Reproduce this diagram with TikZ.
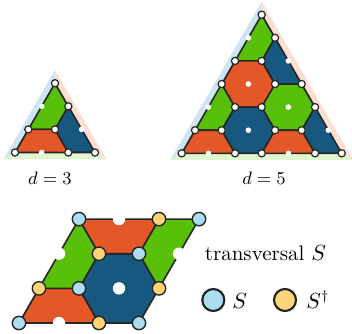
\documentclass[tikz,border=0pt]{standalone}
\usetikzlibrary{calc}

\definecolor{plaq0}{RGB}{228,88,40}
\definecolor{plaq1}{RGB}{22,88,128}
\definecolor{plaq2}{RGB}{88,192,8}
\definecolor{qblue}{RGB}{170,222,238}
\definecolor{qyellow}{RGB}{255,212,120}
\definecolor{stripblue}{RGB}{205,228,242}
\definecolor{stripred}{RGB}{252,222,210}
\definecolor{stripgreen}{RGB}{224,246,206}

\begin{document}
\begin{tikzpicture}[
  x=0.5pt,y=-0.5pt,
  edge/.style={draw=black!85,line width=0.8pt,line join=round},
  qubit/.style={circle,draw=black!85,line width=0.6pt,fill=white,inner sep=0pt,minimum size=3.6pt},
  stab/.style={circle,fill=white,inner sep=0pt,minimum size=2.8pt},
  bigqubit/.style={circle,draw=black!85,line width=0.7pt,inner sep=0pt,minimum size=6.7pt},
  bigstab/.style={circle,fill=white,inner sep=0pt,minimum size=6.2pt},
  legqubit/.style={circle,draw=black!85,line width=1.1pt,inner sep=0pt,minimum size=11pt},
  dlabel/.style={font=\fontsize{9}{11}\selectfont}
]
\useasboundingbox (0,0) rectangle (352,333);

% triangular codes, d=3 and d=5
\foreach \n/\xo/\yo/\k/\d/\lx in {3/15/152.5/1.282/3/50,6/181.7/153.3/1.141/5/264}{
  \begin{scope}[shift={(\xo,\yo)},x={(13.333pt,0pt)},y={(6.667pt,11.547pt)}]
    \coordinate (ctr\d) at (\n/3,\n/3);
    \coordinate (bl\d) at ($(ctr\d)!\k!(0,0)$);
    \coordinate (br\d) at ($(ctr\d)!\k!(\n,0)$);
    \coordinate (tp\d) at ($(ctr\d)!\k!(0,\n)$);
    \fill[stripblue] (ctr\d) -- (bl\d) -- (tp\d) -- cycle;
    \fill[stripred] (ctr\d) -- (br\d) -- (tp\d) -- cycle;
    \fill[stripgreen] (ctr\d) -- (bl\d) -- (br\d) -- cycle;
    \begin{scope}
      \clip (0,0) -- (\n,0) -- (0,\n) -- cycle;
      \foreach \i in {0,...,\n}
        \foreach \j in {0,...,\n}{
          \pgfmathtruncatemacro\r{mod(\i-\j+9,3)}
          \pgfmathtruncatemacro\s{\i+\j}
          \pgfmathtruncatemacro\c{mod(\j,3)}
          \ifnum\s>\n\else\ifnum\r=1
            \filldraw[edge,fill=plaq\c] (\i+1,\j) -- (\i,\j+1) -- (\i-1,\j+1)
              -- (\i-1,\j) -- (\i,\j-1) -- (\i+1,\j-1) -- cycle;
          \fi\fi
        }
    \end{scope}
    \draw[edge] (0,0) -- (\n,0) -- (0,\n) -- cycle;
    \foreach \i in {0,...,\n}
      \foreach \j in {0,...,\n}{
        \pgfmathtruncatemacro\r{mod(\i-\j+9,3)}
        \pgfmathtruncatemacro\s{\i+\j}
        \ifnum\s>\n\else
          \ifnum\r=1
            \node[stab] (c\d-\i-\j) at (\i,\j) {};
          \else
            \node[qubit] (q\d-\i-\j) at (\i,\j) {};
          \fi
        \fi
      }
  \end{scope}
  \node[dlabel] (lab\d) at (\lx,178) {$d=\d$};
}

% patch with transversal S
\begin{scope}[shift={(19,323)},x={(20pt,0pt)},y={(10pt,17.32pt)}]
  \begin{scope}
    \clip (0,0) -- (3,0) -- (3,3) -- (0,3) -- cycle;
    \foreach \i/\j in {1/0,2/1,0/2,3/2,1/3}{
      \pgfmathtruncatemacro\c{mod(\j,3)}
      \filldraw[edge,fill=plaq\c] (\i+1,\j) -- (\i,\j+1) -- (\i-1,\j+1)
        -- (\i-1,\j) -- (\i,\j-1) -- (\i+1,\j-1) -- cycle;
    }
  \end{scope}
  \draw[edge] (0,0) -- (3,0) -- (3,3) -- (0,3) -- cycle;
  \foreach \i/\j in {1/0,2/1,0/2,3/2,1/3}
    \node[bigstab] (pc-\i-\j) at (\i,\j) {};
  \foreach \i/\j in {0/0,3/0,1/1,2/2,0/3,3/3}
    \node[bigqubit,fill=qblue] (ps-\i-\j) at (\i,\j) {};
  \foreach \i/\j in {2/0,0/1,3/1,1/2,2/3}
    \node[bigqubit,fill=qyellow] (pd-\i-\j) at (\i,\j) {};
\end{scope}

% legend
\node[font=\fontsize{10.5}{12}\selectfont] (title) at (265.5,253) {transversal $S$};
\node[legqubit,fill=qblue] (legS) at (213.3,300) {};
\node[anchor=west,inner sep=0pt,font=\fontsize{10.5}{12}\selectfont] (legStext) at (232,301) {$S$};
\node[legqubit,fill=qyellow] (legSd) at (285,300) {};
\node[anchor=west,inner sep=0pt,font=\fontsize{10.5}{12}\selectfont] (legSdtext) at (306,300) {$S^\dagger$};
\end{tikzpicture}
\end{document}
